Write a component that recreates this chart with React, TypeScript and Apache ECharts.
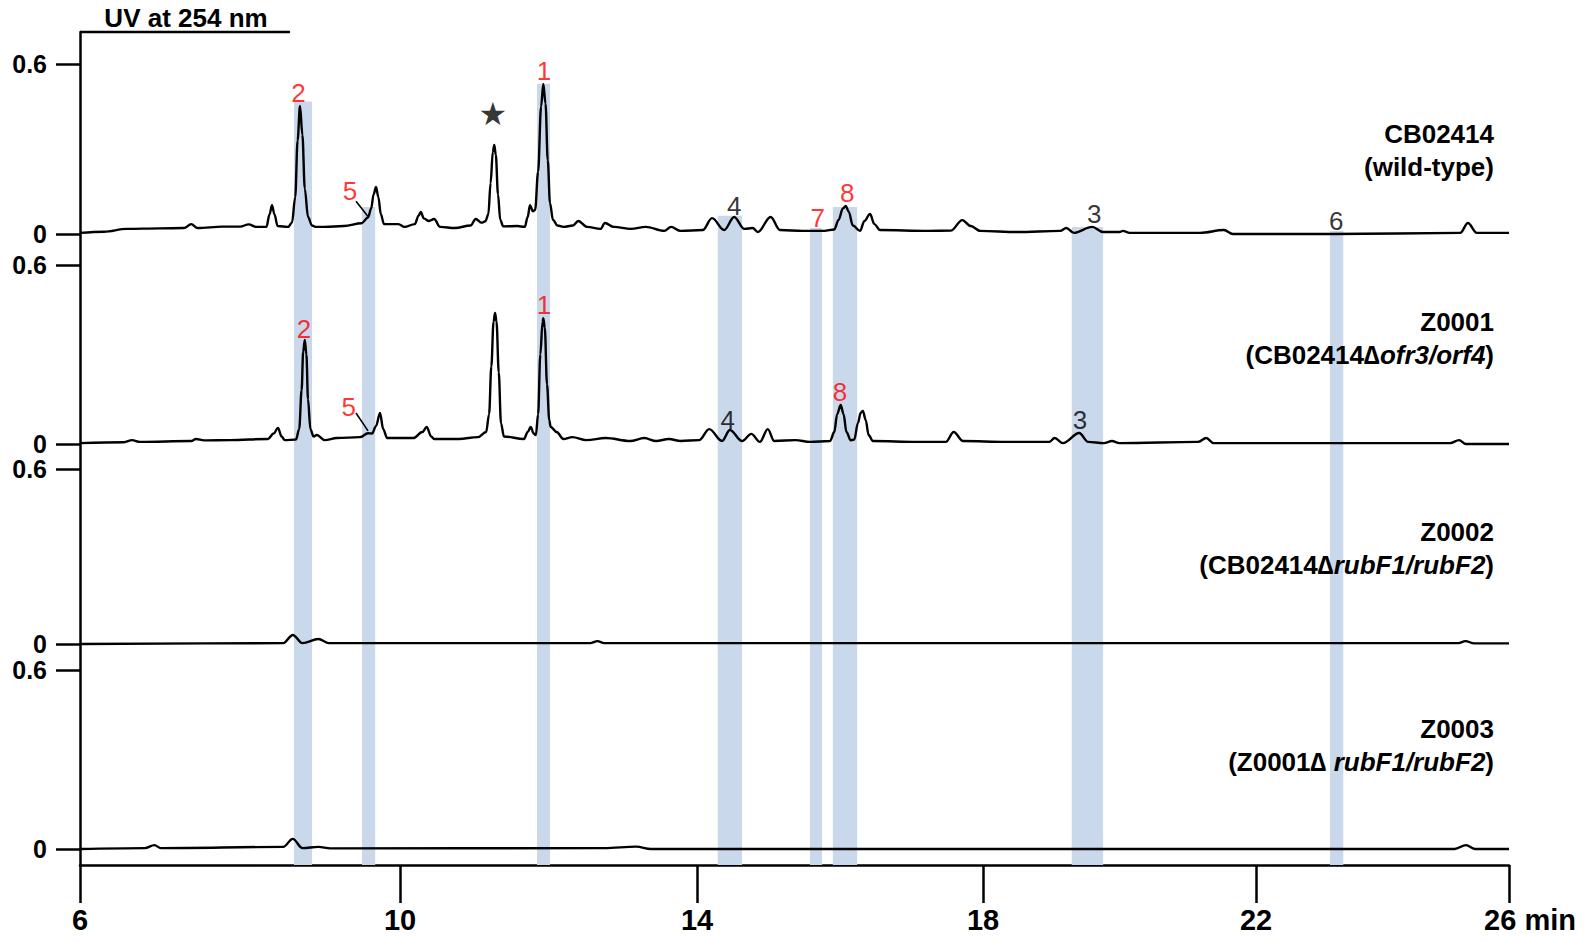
import React, { useEffect, useRef } from "react";
import * as echarts from "echarts";

// ---------- axis ----------
const tickTimes = [6, 10, 14, 18, 22, 26];
const tickLabels = ["6", "10", "14", "18", "22", "26 min"];
// printed axis is not linear: relative position of each tick along the axis
const tickFrac = [0, 320 / 1429, 617 / 1429, 903 / 1429, 1176 / 1429, 1];

// ---------- chromatograms: [time (min), absorbance] ----------
const wildType: number[][] = [
  [6.0, 0.004], [6.3, 0.008], [6.58, 0.018], [7.0, 0.02], [7.3, 0.021], [7.39, 0.035], [7.47, 0.021],
  [7.78, 0.026], [8.0, 0.026], [8.11, 0.034], [8.2, 0.025], [8.33, 0.025], [8.37, 0.07], [8.4, 0.102],
  [8.43, 0.07], [8.47, 0.028], [8.6, 0.025], [8.65, 0.04], [8.69, 0.13], [8.72, 0.33], [8.75, 0.452],
  [8.78, 0.35], [8.81, 0.16], [8.85, 0.06], [8.9, 0.03], [8.95, 0.025], [9.06, 0.025], [9.3, 0.028],
  [9.52, 0.038], [9.6, 0.058], [9.64, 0.09], [9.67, 0.14], [9.7, 0.166], [9.73, 0.13], [9.76, 0.07],
  [9.8, 0.035], [9.98, 0.035], [10.06, 0.025], [10.2, 0.035], [10.25, 0.065], [10.28, 0.078], [10.32, 0.055],
  [10.39, 0.046], [10.46, 0.053], [10.54, 0.025], [10.74, 0.021], [10.95, 0.03], [11.02, 0.053], [11.1, 0.04],
  [11.15, 0.045], [11.19, 0.07], [11.22, 0.18], [11.25, 0.29], [11.27, 0.314], [11.29, 0.28], [11.32, 0.14],
  [11.35, 0.05], [11.39, 0.027], [11.58, 0.028], [11.68, 0.025], [11.72, 0.06], [11.75, 0.102], [11.79, 0.08],
  [11.82, 0.085], [11.86, 0.22], [11.9, 0.45], [11.93, 0.53], [11.96, 0.46], [11.99, 0.26], [12.02, 0.11],
  [12.06, 0.05], [12.12, 0.03], [12.2, 0.025], [12.33, 0.03], [12.4, 0.046], [12.52, 0.025], [12.7, 0.018],
  [12.76, 0.039], [12.88, 0.025], [13.11, 0.018], [13.31, 0.025], [13.56, 0.011], [13.65, 0.025], [13.78, 0.011],
  [14.08, 0.014], [14.21, 0.056], [14.38, 0.014], [14.52, 0.06], [14.66, 0.018], [14.78, 0.021], [14.85, 0.007],
  [15.03, 0.06], [15.16, 0.014], [15.48, 0.011], [15.78, 0.011], [15.92, 0.016], [15.98, 0.05], [16.04, 0.09],
  [16.08, 0.099], [16.12, 0.08], [16.18, 0.03], [16.28, 0.011], [16.34, 0.045], [16.42, 0.071], [16.48, 0.035],
  [16.56, 0.014], [17.23, 0.011], [17.55, 0.012], [17.71, 0.049], [17.83, 0.028], [17.96, 0.011], [18.5, 0.007],
  [19.13, 0.011], [19.22, 0.021], [19.33, 0.004], [19.6, 0.025], [19.76, 0.007], [20.0, 0.007], [20.05, 0.011],
  [20.15, 0.004], [21.18, 0.004], [21.53, 0.014], [21.66, 0.0], [23.22, 0.0], [25.23, 0.004], [25.35, 0.039],
  [25.49, 0.004], [26.0, 0.004],
];

const z0001: number[][] = [
  [6.0, 0.003], [6.55, 0.006], [6.65, 0.013], [6.75, 0.007], [7.39, 0.01], [7.45, 0.017], [7.55, 0.012],
  [7.875, 0.013], [8.35, 0.017], [8.42, 0.035], [8.475, 0.054], [8.52, 0.025], [8.56, 0.013], [8.7, 0.015],
  [8.74, 0.05], [8.77, 0.18], [8.79, 0.31], [8.81, 0.349], [8.83, 0.3], [8.85, 0.15], [8.88, 0.05],
  [8.92, 0.025], [8.96, 0.03], [9.06, 0.013], [9.21, 0.02], [9.5, 0.023], [9.6, 0.036], [9.65, 0.035],
  [9.7, 0.06], [9.75, 0.104], [9.79, 0.05], [9.84, 0.02], [10.03, 0.02], [10.18, 0.02], [10.3, 0.04],
  [10.36, 0.057], [10.42, 0.025], [10.46, 0.017], [10.79, 0.017], [11.05, 0.023], [11.16, 0.04], [11.2, 0.1],
  [11.23, 0.26], [11.26, 0.41], [11.28, 0.439], [11.3, 0.41], [11.33, 0.24], [11.36, 0.07], [11.4, 0.025],
  [11.67, 0.017], [11.72, 0.04], [11.76, 0.057], [11.8, 0.035], [11.83, 0.03], [11.86, 0.1], [11.89, 0.3],
  [11.92, 0.41], [11.93, 0.422], [11.95, 0.39], [11.98, 0.2], [12.01, 0.08], [12.03, 0.057], [12.11, 0.04],
  [12.2, 0.017], [12.32, 0.023], [12.51, 0.013], [12.77, 0.02], [13.1, 0.01], [13.29, 0.02], [13.45, 0.01],
  [13.62, 0.017], [13.78, 0.01], [14.03, 0.013], [14.17, 0.05], [14.35, 0.01], [14.46, 0.047], [14.63, 0.01],
  [14.76, 0.034], [14.88, 0.007], [14.99, 0.05], [15.08, 0.01], [15.38, 0.013], [15.58, 0.007], [15.86, 0.01],
  [15.92, 0.04], [15.96, 0.1], [16.01, 0.131], [16.05, 0.1], [16.09, 0.04], [16.15, 0.012], [16.2, 0.015],
  [16.25, 0.07], [16.29, 0.105], [16.32, 0.111], [16.36, 0.08], [16.4, 0.03], [16.46, 0.01], [17.08, 0.007],
  [17.48, 0.007], [17.59, 0.04], [17.72, 0.01], [18.34, 0.007], [18.97, 0.007], [19.05, 0.02], [19.17, 0.003],
  [19.41, 0.037], [19.54, 0.007], [19.77, 0.003], [19.89, 0.01], [20.0, 0.003], [21.15, 0.007], [21.27, 0.02],
  [21.38, 0.003], [25.07, 0.003], [25.21, 0.013], [25.32, 0.0], [26.0, 0.0],
];

const z0002: number[][] = [
  [6.0, 0.0], [8.54, 0.003], [8.66, 0.031], [8.78, 0.003], [8.98, 0.017], [9.11, 0.003], [12.56, 0.003],
  [12.66, 0.01], [12.75, 0.003], [25.2, 0.003], [25.31, 0.01], [25.45, 0.002], [26.0, 0.002],
];

const z0003: number[][] = [
  [6.0, 0.0], [6.81, 0.003], [6.93, 0.013], [7.01, 0.003], [8.54, 0.007], [8.66, 0.034], [8.78, 0.003],
  [8.98, 0.007], [9.13, 0.002], [12.75, 0.003], [13.18, 0.008], [13.38, 0.0], [18.25, 0.0], [25.14, 0.0],
  [25.32, 0.013], [25.46, 0.0], [26.0, 0.0],
];

// ---------- highlighted retention windows ----------
const bandNames = ["2", "5", "1", "4", "7", "8", "3", "6"];
const bandStart = [8.675, 9.525, 11.845, 14.29, 15.58, 15.9, 19.3, 23.17];
const bandEnd = [8.9, 9.69, 12.02, 14.63, 15.75, 16.24, 19.76, 23.38];
const bandTop = [0.468, 0.095, 0.53, 0.064, 0.021, 0.095, 0.025, 0.011]; // in wild-type absorbance units

// ---------- peak annotations: [label, time, absorbance, red?] ----------
const wtMarks: [string, number, number, boolean][] = [
  ["2", 8.73, 0.498, true], ["5", 9.375, 0.152, true], ["★", 11.25, 0.424, false], ["1", 11.94, 0.575, true],
  ["4", 14.52, 0.1, false], ["7", 15.69, 0.056, true], ["8", 16.1, 0.145, true], ["3", 19.63, 0.069, false],
  ["6", 23.27, 0.046, false],
];
const z1Marks: [string, number, number, boolean][] = [
  ["2", 8.8, 0.385, true], ["5", 9.36, 0.124, true], ["1", 11.94, 0.466, true], ["4", 14.43, 0.08, false],
  ["8", 16.0, 0.174, true], ["3", 19.42, 0.08, false],
];
const wtLeader = [[9.45, 0.116], [9.6, 0.062]];
const z1Leader = [[9.45, 0.104], [9.6, 0.044]];

const panelNames = [
  ["CB02414", "(wild-type)"],
  ["Z0001", "(CB02414∆{i|ofr3/orf4})"],
  ["Z0002", "(CB02414∆{i|rubF1/rubF2})"],
  ["Z0003", "(Z0001∆ {i|rubF1/rubF2})"],
];

// ---------- layout ----------
const FONT = "'Liberation Sans', Arial, Helvetica, sans-serif";
const LEFT = 80;
const PLOT_W = 1429;
const AXIS_TOP = 32;
const AXIS_Y = 865;
const panels = [
  { top: 64, h: 170, nameY: 134 },
  { top: 265, h: 179, nameY: 322 },
  { top: 469, h: 175, nameY: 532 },
  { top: 670, h: 179, nameY: 729 },
];
const BAND = "#c9d8eb";
const RED = "#ff0000";

function warp(t: number): number {
  for (let i = 0; i < tickTimes.length - 1; i++) {
    if (t <= tickTimes[i + 1] || i === tickTimes.length - 2) {
      const f = (t - tickTimes[i]) / (tickTimes[i + 1] - tickTimes[i]);
      return tickFrac[i] + f * (tickFrac[i + 1] - tickFrac[i]);
    }
  }
  return 0;
}

export default function App() {
  const ref = useRef<HTMLDivElement>(null);
  useEffect(() => {
    if (!ref.current) return;
    const chart = echarts.init(ref.current, null, { renderer: "svg" });

    const grids: any[] = [
      { left: LEFT, top: AXIS_TOP, width: PLOT_W, height: AXIS_Y - AXIS_TOP },
      ...panels.map((p) => ({ left: LEFT, top: p.top, width: PLOT_W, height: p.h })),
    ];

    const xAxes: any[] = [
      {
        gridIndex: 0, type: "value", min: 0, max: 1, position: "bottom",
        axisLine: { onZero: false, lineStyle: { color: "#000", width: 2.5 } },
        axisTick: { show: true, customValues: tickFrac, length: 38, lineStyle: { color: "#000", width: 2.5 } },
        axisLabel: {
          customValues: tickFrac, margin: 40, color: "#000", fontSize: 29, fontWeight: "bold", fontFamily: FONT,
          formatter: (v: number) => {
            let idx = 0;
            tickFrac.forEach((f, i) => { if (Math.abs(f - v) < Math.abs(tickFrac[idx] - v)) idx = i; });
            return idx === tickFrac.length - 1 ? "{last|" + tickLabels[idx] + "}" : tickLabels[idx];
          },
          rich: { last: { padding: [0, 0, 0, 42], fontSize: 29, fontWeight: "bold", fontFamily: FONT, color: "#000" } },
        },
        splitLine: { show: false },
      },
      ...panels.map((_, i) => ({ gridIndex: i + 1, type: "value", min: 0, max: 1, show: false })),
    ];

    const yAxes: any[] = [
      {
        gridIndex: 0, type: "value", min: 0, max: 1, position: "left",
        axisLine: { show: true, lineStyle: { color: "#000", width: 2.5 } },
        axisTick: { show: false }, axisLabel: { show: false }, splitLine: { show: false },
      },
      ...panels.map((_, i) => ({
        gridIndex: i + 1, type: "value", min: 0, max: 0.6, interval: 0.6, position: "left",
        axisLine: { show: false },
        axisTick: { show: true, length: 24, lineStyle: { color: "#000", width: 2.5 } },
        axisLabel: {
          margin: 33, color: "#000", fontSize: 25, lineHeight: 19, fontWeight: "bold", fontFamily: FONT,
          formatter: (v: number) => (v === 0 ? "0" : "0.6"),
        },
        splitLine: { show: false },
      })),
    ];

    const traces = [wildType, z0001, z0002, z0003];
    const series: any[] = [
      {
        type: "custom", xAxisIndex: 1, yAxisIndex: 1, z: 1, clip: false,
        data: bandStart.map((s, i) => ({ name: bandNames[i], value: [warp(s), warp(bandEnd[i]), bandTop[i]] })),
        encode: { x: [0, 1], y: 2 },
        renderItem: (params: any, api: any) => {
          const p0 = api.coord([api.value(0), api.value(2)]);
          const p1 = api.coord([api.value(1), 0]);
          return {
            type: "rect",
            shape: { x: p0[0], y: p0[1], width: p1[0] - p0[0], height: AXIS_Y - p0[1] },
            style: { fill: BAND },
          };
        },
      },
      ...traces.map((tr, i) => ({
        type: "line", xAxisIndex: i + 1, yAxisIndex: i + 1, z: 3,
        data: tr.map(([t, v]) => [warp(t), v]),
        showSymbol: false, symbol: "none", smooth: 0.35, smoothMonotone: "x", clip: false,
        lineStyle: { color: "#000", width: 2.4 },
      })),
      ...[wtLeader, z1Leader].map((ld, i) => ({
        type: "line", xAxisIndex: i + 1, yAxisIndex: i + 1, z: 4,
        data: ld.map(([t, v]) => [warp(t), v]), showSymbol: false, symbol: "none",
        lineStyle: { color: "#000", width: 1.6 },
      })),
      ...[wtMarks, z1Marks].map((marks, i) => ({
        type: "scatter", xAxisIndex: i + 1, yAxisIndex: i + 1, z: 5, symbolSize: 1,
        itemStyle: { color: "rgba(0,0,0,0)" },
        data: marks.map(([txt, t, v, red]) => ({
          value: [warp(t), v],
          label: {
            show: true, position: "inside", formatter: txt, color: red ? RED : "#000",
            fontSize: txt === "★" ? 32 : 26, fontFamily: txt === "★" ? "'DejaVu Sans', sans-serif" : FONT,
            align: "center", verticalAlign: "middle",
          },
        })),
      })),
    ];

    const rich = { i: { fontStyle: "italic", fontWeight: "bold", fontSize: 26, fontFamily: FONT, fill: "#000" } };
    const graphic: any[] = [
      { type: "line", z: 100, shape: { x1: LEFT, y1: AXIS_TOP, x2: 290, y2: AXIS_TOP }, style: { stroke: "#000", lineWidth: 2.5 } },
      {
        type: "text", x: 186, y: 18, z: 100,
        style: { text: "UV at 254 nm", fontSize: 26, fontWeight: "bold", fontFamily: FONT, fill: "#000", align: "center", verticalAlign: "middle" },
      },
      ...panelNames.flatMap((nm, i) => [
        {
          type: "text", x: 1494, y: panels[i].nameY, z: 100,
          style: { text: nm[0], fontSize: 26, fontWeight: "bold", fontFamily: FONT, fill: "#000", align: "right", verticalAlign: "middle" },
        },
        {
          type: "text", x: 1494, y: panels[i].nameY + 33, z: 100,
          style: { text: nm[1], rich, fontSize: 26, fontWeight: "bold", fontFamily: FONT, fill: "#000", align: "right", verticalAlign: "middle" },
        },
      ]),
    ];

    chart.setOption({
      animation: false,
      backgroundColor: "#fff",
      grid: grids,
      xAxis: xAxes,
      yAxis: yAxes,
      series,
      graphic,
    });
    return () => chart.dispose();
  }, []);
  return <div ref={ref} style={{ position: "absolute", left: 0, top: 0, width: 1594, height: 941 }} />;
}
